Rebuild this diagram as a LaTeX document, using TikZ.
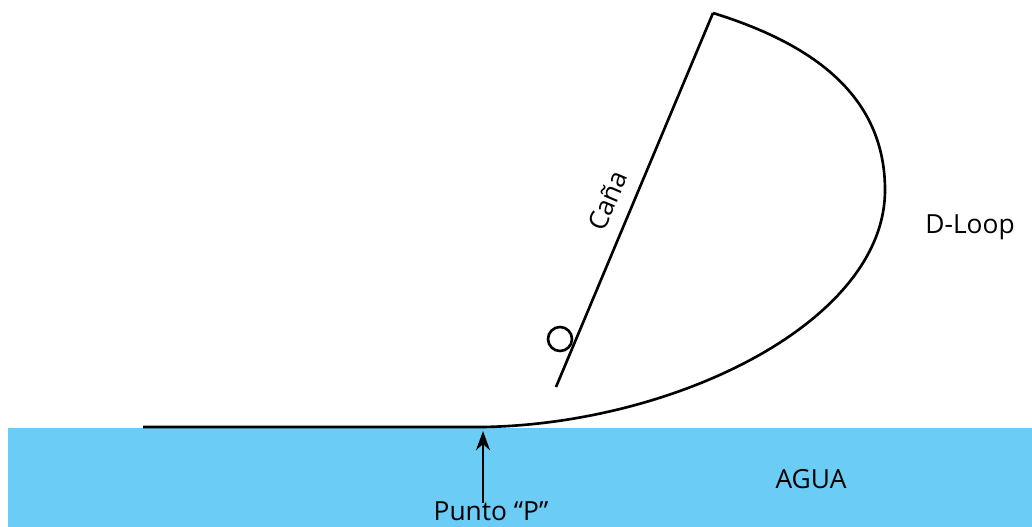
\documentclass[tikz,border=0pt]{standalone}
\usepackage{fontspec}
\setmainfont{Open Sans}
\usetikzlibrary{arrows.meta,positioning}

\definecolor{agua}{HTML}{6BCDF5}

\begin{document}
\begin{tikzpicture}[x=0.02cm, y=-0.02cm, font=\fontsize{15}{18}\selectfont,
    line/.style={draw, line width=1.5pt},
    txt/.style={inner sep=0pt, anchor=base},
    pointer/.style={->, >={Stealth[length=11pt,width=8pt]}, line width=1.3pt}
]

% Frame and water
\useasboundingbox (0,0) rectangle (1032,527);
\fill[agua] (8,428) rectangle (1032,527);

% Points of the line
\coordinate (LineStart) at (143,427);
\coordinate (P) at (483,427);
\coordinate (LoopSide) at (885,190);
\coordinate (RodTip) at (713,13);
\coordinate (RodEnd) at (556,387);

% Line on the water and D-Loop
\draw[line] (LineStart) -- (P)
    .. controls (675,424) and (885,322) .. (LoopSide)
    .. controls (885,88) and (800,40) .. (RodTip);

% Rod and reel
\draw[line] (RodTip) -- (RodEnd);
\draw[line] (560,339) circle (12);

% Labels
\node[rotate=67, anchor=south, inner sep=2pt] (Cana) at (620,206) {Caña};
\node[txt] (DLoop) at (970,234) {D-Loop};
\node[txt] (Agua) at (811,488) {AGUA};
\node[txt] (Punto) at (491,520) {Punto “P”};

% Arrow to point P
\coordinate (ArrowFoot) at (483,503);
\coordinate (ArrowTip) at (483,431);
\draw[pointer] (ArrowFoot) -- (ArrowTip);

\end{tikzpicture}
\end{document}
